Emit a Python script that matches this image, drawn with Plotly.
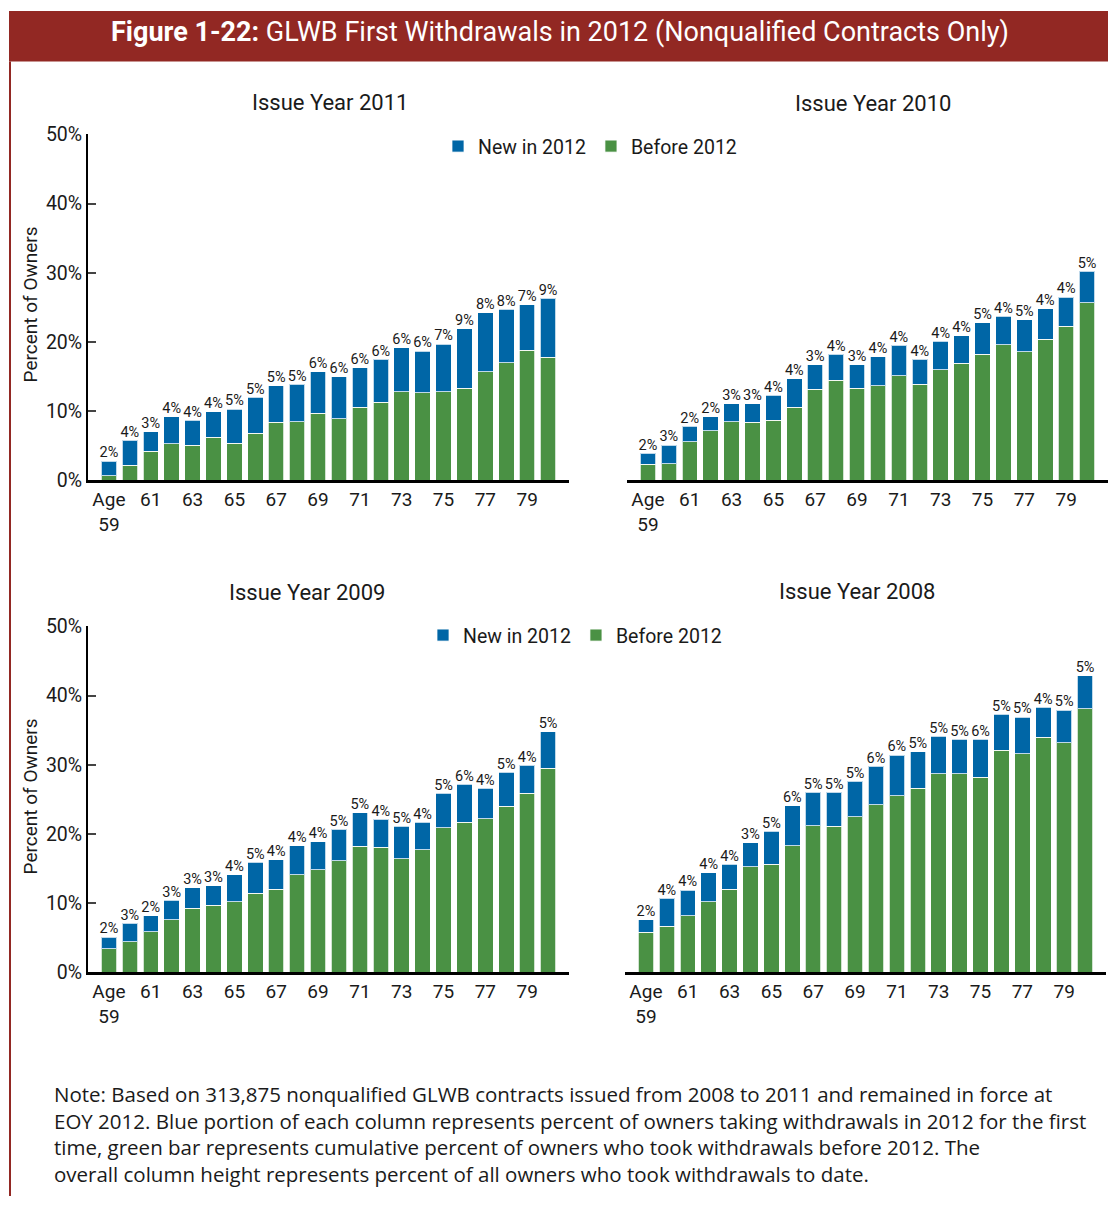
import plotly.graph_objects as go

ages = list(range(59, 81))
tick_vals = list(range(59, 80, 2))
tick_text = ["Age<br>59"] + [str(a) for a in range(61, 80, 2)]
y_vals = [0, 10, 20, 30, 40, 50]
y_text = ["0%", "10%", "20%", "30%", "40%", "50%"]

# Issue Year 2011
before_2011 = [0.7, 2.2, 4.2, 5.3, 5.1, 6.2, 5.4, 6.8, 8.4, 8.5, 9.7, 8.9, 10.6, 11.3, 12.8, 12.7, 12.8, 13.3, 15.7, 17.0, 18.8, 17.8]
new_2011 = [2.1, 3.6, 2.8, 3.9, 3.6, 3.7, 4.9, 5.2, 5.3, 5.4, 6.0, 6.1, 5.7, 6.2, 6.4, 6.0, 6.9, 8.6, 8.5, 7.7, 6.6, 8.5]
labels_2011 = [2, 4, 3, 4, 4, 4, 5, 5, 5, 5, 6, 6, 6, 6, 6, 6, 7, 9, 8, 8, 7, 9]

# Issue Year 2010
before_2010 = [2.3, 2.4, 5.6, 7.2, 8.5, 8.4, 8.7, 10.6, 13.2, 14.5, 13.3, 13.7, 15.1, 13.9, 16.0, 16.9, 18.2, 19.6, 18.6, 20.4, 22.3, 25.7]
new_2010 = [1.6, 2.7, 2.2, 2.0, 2.6, 2.7, 3.6, 4.1, 3.5, 3.7, 3.4, 4.2, 4.4, 3.6, 4.1, 4.0, 4.6, 4.1, 4.6, 4.4, 4.2, 4.5]
labels_2010 = [2, 3, 2, 2, 3, 3, 4, 4, 3, 4, 3, 4, 4, 4, 4, 4, 5, 4, 5, 4, 4, 5]

# Issue Year 2009
before_2009 = [3.4, 4.4, 5.9, 7.6, 9.3, 9.7, 10.2, 11.4, 12.0, 14.1, 14.8, 16.1, 18.2, 18.1, 16.4, 17.7, 20.9, 21.7, 22.2, 24.0, 25.9, 29.5]
new_2009 = [1.7, 2.7, 2.3, 2.8, 2.9, 2.8, 3.9, 4.5, 4.3, 4.2, 4.1, 4.6, 4.9, 4.0, 4.7, 4.0, 5.0, 5.5, 4.4, 4.9, 4.0, 5.3]
labels_2009 = [2, 3, 2, 3, 3, 3, 4, 5, 4, 4, 4, 5, 5, 4, 5, 4, 5, 6, 4, 5, 4, 5]

# Issue Year 2008
before_2008 = [5.8, 6.7, 8.2, 10.2, 12.0, 15.3, 15.6, 18.3, 21.2, 21.1, 22.5, 24.2, 25.5, 26.6, 28.7, 28.7, 28.2, 32.1, 31.6, 34.0, 33.2, 38.1]
new_2008 = [1.8, 4.0, 3.7, 4.2, 3.6, 3.4, 4.8, 5.8, 4.8, 4.9, 5.1, 5.6, 5.9, 5.3, 5.4, 5.0, 5.5, 5.2, 5.3, 4.3, 4.7, 4.8]
labels_2008 = [2, 4, 4, 4, 4, 3, 5, 6, 5, 5, 5, 6, 6, 5, 5, 5, 6, 5, 5, 4, 5, 5]

BLUE = "#0066A6"
GREEN = "#4A9144"
DARK_RED = "#922823"
TXT = "#1a1a1a"
FONT = "Roboto, Liberation Sans, sans-serif"

W, H = 1110, 1208
# the photographed page comes out a bit squashed vertically and shifted down
SY, OY = 0.981, 11.8


def px_x(v):
    return v / W


def px_y(v):
    return 1 - (v / SY - OY) / H


fig = go.Figure()


def add_panel(before, new, labels, n, legend, showlegend):
    xa = "x" if n == 1 else f"x{n}"
    ya = "y" if n == 1 else f"y{n}"
    line = dict(color="rgba(255,255,255,0.75)", width=1)
    fig.add_trace(go.Bar(x=ages, y=before, name="Before 2012", marker=dict(color=GREEN, line=line),
                         xaxis=xa, yaxis=ya, legend=legend, showlegend=showlegend,
                         legendrank=2, width=0.74))
    fig.add_trace(go.Bar(x=ages, y=new, name="New in 2012", marker=dict(color=BLUE, line=line),
                         xaxis=xa, yaxis=ya, legend=legend, showlegend=showlegend,
                         legendrank=1, width=0.74))
    totals = [b + v for b, v in zip(before, new)]
    fig.add_trace(go.Scatter(x=ages, y=totals, mode="text", text=[f"{l}%" for l in labels],
                             textposition="top center", textfont=dict(size=14.5, color=TXT, family=FONT),
                             xaxis=xa, yaxis=ya, showlegend=False, cliponaxis=False, hoverinfo="skip"))


add_panel(before_2011, new_2011, labels_2011, 1, "legend", True)
add_panel(before_2010, new_2010, labels_2010, 2, "legend", False)
add_panel(before_2009, new_2009, labels_2009, 3, "legend2", True)
add_panel(before_2008, new_2008, labels_2008, 4, "legend2", False)

xcommon = dict(range=[58, 81], tickvals=tick_vals, ticktext=tick_text, showline=True, linecolor="black",
               linewidth=3, ticks="", showgrid=False, zeroline=False,
               tickfont=dict(size=19, color=TXT, family=FONT))
ycommon = dict(range=[0, 50], showgrid=False, zeroline=False)
yleft = dict(showline=True, linecolor="black", linewidth=2, ticks="inside", ticklen=8, tickwidth=2,
             tickvals=y_vals, ticktext=y_text, tickfont=dict(size=19.5, color=TXT, family=FONT), **ycommon)

top = [px_y(481), px_y(135)]
bot = [px_y(973), px_y(627)]

fig.update_layout(
    xaxis=dict(domain=[px_x(88), px_x(569)], anchor="y", **xcommon),
    xaxis2=dict(domain=[px_x(627), px_x(1108)], anchor="y2", **xcommon),
    xaxis3=dict(domain=[px_x(88), px_x(569)], anchor="y3", **xcommon),
    xaxis4=dict(domain=[px_x(625), px_x(1106)], anchor="y4", **xcommon),
    yaxis=dict(domain=top, anchor="x", **yleft),
    yaxis2=dict(domain=top, anchor="x2", visible=False, **ycommon),
    yaxis3=dict(domain=bot, anchor="x3", **yleft),
    yaxis4=dict(domain=bot, anchor="x4", visible=False, **ycommon),
    barmode="stack",
    width=W,
    height=H,
    margin=dict(l=0, r=0, t=0, b=0),
    paper_bgcolor="white",
    plot_bgcolor="white",
    font=dict(family=FONT, color=TXT),
    legend=dict(orientation="h", x=px_x(438), y=px_y(147), xanchor="left", yanchor="middle",
                font=dict(size=19.5, family=FONT, color=TXT), bgcolor="rgba(0,0,0,0)", traceorder="normal"),
    legend2=dict(orientation="h", x=px_x(423), y=px_y(636), xanchor="left", yanchor="middle",
                 font=dict(size=19.5, family=FONT, color=TXT), bgcolor="rgba(0,0,0,0)", traceorder="normal"),
)

# header band and left border
fig.add_shape(type="rect", xref="paper", yref="paper", x0=px_x(9), x1=px_x(1108), y0=px_y(62), y1=1,
              fillcolor=DARK_RED, line=dict(width=0), layer="below")
fig.add_shape(type="line", xref="paper", yref="paper", x0=px_x(10), x1=px_x(10), y0=0, y1=px_y(62),
              line=dict(color=DARK_RED, width=2))

fig.add_annotation(text="<b>Figure 1-22:</b> GLWB First Withdrawals in 2012 (Nonqualified Contracts Only)",
                   x=px_x(560), y=px_y(33), xref="paper", yref="paper", showarrow=False,
                   xanchor="center", yanchor="middle",
                   font=dict(size=27, color="white", family=FONT))

panel_titles = [("Issue Year 2011", 330, 103), ("Issue Year 2010", 873, 104),
                ("Issue Year 2009", 307, 593), ("Issue Year 2008", 857, 592)]
for t, xx, yy in panel_titles:
    fig.add_annotation(text=t, x=px_x(xx), y=px_y(yy), xref="paper", yref="paper", showarrow=False,
                       xanchor="center", yanchor="middle", font=dict(size=22, color=TXT, family=FONT))

for yy in (305, 797):
    fig.add_annotation(text="Percent of Owners", x=px_x(30), y=px_y(yy), xref="paper", yref="paper",
                       showarrow=False, textangle=-90, xanchor="center", yanchor="middle",
                       font=dict(size=19, color=TXT, family=FONT))

note = ("Note: Based on 313,875 nonqualified GLWB contracts issued from 2008 to 2011 and remained in force at<br>"
        "EOY 2012. Blue portion of each column represents percent of owners taking withdrawals in 2012 for the first<br>"
        "time, green bar represents cumulative percent of owners who took withdrawals before 2012. The<br>"
        "overall column height represents percent of all owners who took withdrawals to date.")
fig.add_annotation(text=note, x=px_x(52), y=px_y(1079), xref="paper", yref="paper", showarrow=False,
                   xanchor="left", yanchor="top", align="left",
                   font=dict(size=20.5, color=TXT, family="Open Sans, sans-serif"))

# page margin off so the figure sits at the window's top-left corner
fig.write_html("out.html", config={"displayModeBar": False}, post_script=(
    "document.body.style.margin='0';"
    "var d=document.getElementsByClassName('plotly-graph-div')[0];"
    "d.style.position='absolute';d.style.left='0';d.style.top='0';"
))
